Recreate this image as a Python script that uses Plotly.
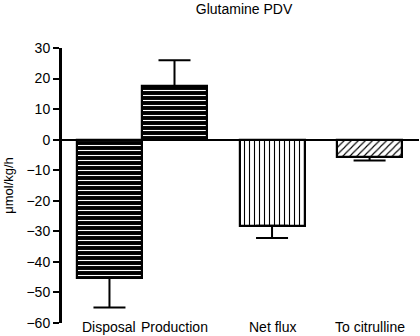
import plotly.graph_objects as go

categories = ["Disposal", "Production", "Net flux", "To citrulline"]
positions = [0, 1, 2.5, 4.0]
values = [-45.2, 17.5, -28.2, -5.7]
errors = [9.7, 8.5, 4.0, 1.1]
y_ticks = [30, 20, 10, 0, -10, -20, -30, -40, -50, -60]

shapes = ["-", "-", "|", "/"]
bgs = ["black", "black", "white", "white"]
fgs = ["white", "white", "black", "black"]

fig = go.Figure()
for i in range(len(categories)):
    v = values[i]
    e = errors[i]
    fig.add_trace(go.Bar(
        x=[positions[i]], y=[v], width=1.0,
        marker=dict(color=bgs[i], line=dict(color="black", width=2.2),
                    pattern=dict(shape=shapes[i], bgcolor=bgs[i], fgcolor=fgs[i],
                                 size=5, solidity=0.22, fillmode="replace")),
        error_y=dict(type="data", symmetric=False,
                     array=[e if v > 0 else 0], arrayminus=[e if v < 0 else 0],
                     color="black", thickness=2, width=16),
        showlegend=False,
    ))

for p, c in zip(positions, categories):
    fig.add_annotation(x=p, y=0, xref="x", yref="paper", text=c, showarrow=False,
                       yanchor="middle", yshift=-4, font=dict(size=14))

fig.update_layout(
    width=420, height=336,
    margin=dict(l=62, r=1, t=48, b=13),
    paper_bgcolor="white", plot_bgcolor="white",
    font=dict(family="Liberation Sans, Arial, sans-serif", size=14, color="black"),
    title=dict(text="Glutamine PDV", x=0.581, xanchor="center", y=0.988, yanchor="top",
               font=dict(size=14)),
    bargap=0,
)
fig.update_xaxes(range=[-0.73, 4.76], showticklabels=False, automargin=False,
                 showline=False, showgrid=False, zeroline=False, ticks="")
fig.update_yaxes(range=[-60, 30], tickvals=y_ticks, showgrid=False, automargin=False,
                 showline=True, linecolor="black", linewidth=3,
                 ticks="outside", ticklen=6, tickwidth=2, tickcolor="black",
                 zeroline=True, zerolinecolor="black", zerolinewidth=2,
                 title=dict(text="μmol/kg/h", standoff=10, font=dict(size=13)),
                 tickfont=dict(size=14))

fig.write_html("out.html", config={"displayModeBar": False},
               post_script="document.body.style.margin='0';document.body.style.overflow='hidden';")
